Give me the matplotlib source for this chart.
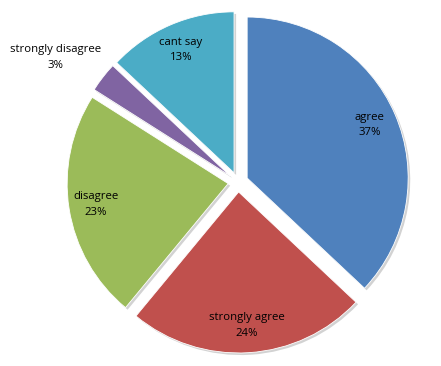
import matplotlib
matplotlib.use("Agg")
import matplotlib.pyplot as plt
import matplotlib.patheffects as pe
import numpy as np

categories = ["agree", "strongly agree", "disagree", "strongly disagree", "cant say"]
values = [37, 24, 23, 3, 13]
colors = ["#4F81BD", "#C0504D", "#9BBB59", "#8064A2", "#4BACC6"]

plt.rcParams['font.family'] = ['Open Sans', 'DejaVu Sans']

W, H = 441, 366
fig = plt.figure(figsize=(W / 100, H / 100), dpi=100)
ax = fig.add_axes([0, 0, 1, 1])

ex = 0.062
explode = [ex] * len(values)
wedges, texts = ax.pie(values, colors=colors, startangle=90, counterclock=False,
                       explode=explode, radius=1.0,
                       wedgeprops=dict(edgecolor="white", linewidth=0.6))
for w in wedges:
    w.set_path_effects([pe.SimplePatchShadow(offset=(1.5, -1.5), shadow_rgbFace="#808080", alpha=0.35),
                        pe.Normal()])

scale = 161.0
cx, cy = 238.0, 366 - 182.0
ax.set_aspect("auto")
ax.set_xlim(-cx / scale, (W - cx) / scale)
ax.set_ylim(-cy / scale, (H - cy) / scale)
ax.set_axis_off()

total = sum(values)
cum = 0
for i, (cat, v) in enumerate(zip(categories, values)):
    mid = 90 - (cum + v / 2) / total * 360
    cum += v
    a = np.deg2rad(mid)
    ox, oy = ex * np.cos(a), ex * np.sin(a)
    if v > 5:
        d, la = 0.83, a
    else:
        d, la = 1.31, a + np.deg2rad(3.6)
    x = ox + d * np.cos(la)
    y = oy + d * np.sin(la)
    ax.text(x, y, f"{cat}\n{v}%", ha="center", va="center", fontsize=8.2,
            color="black", linespacing=1.55)

fig.savefig("out.png", dpi=100)
